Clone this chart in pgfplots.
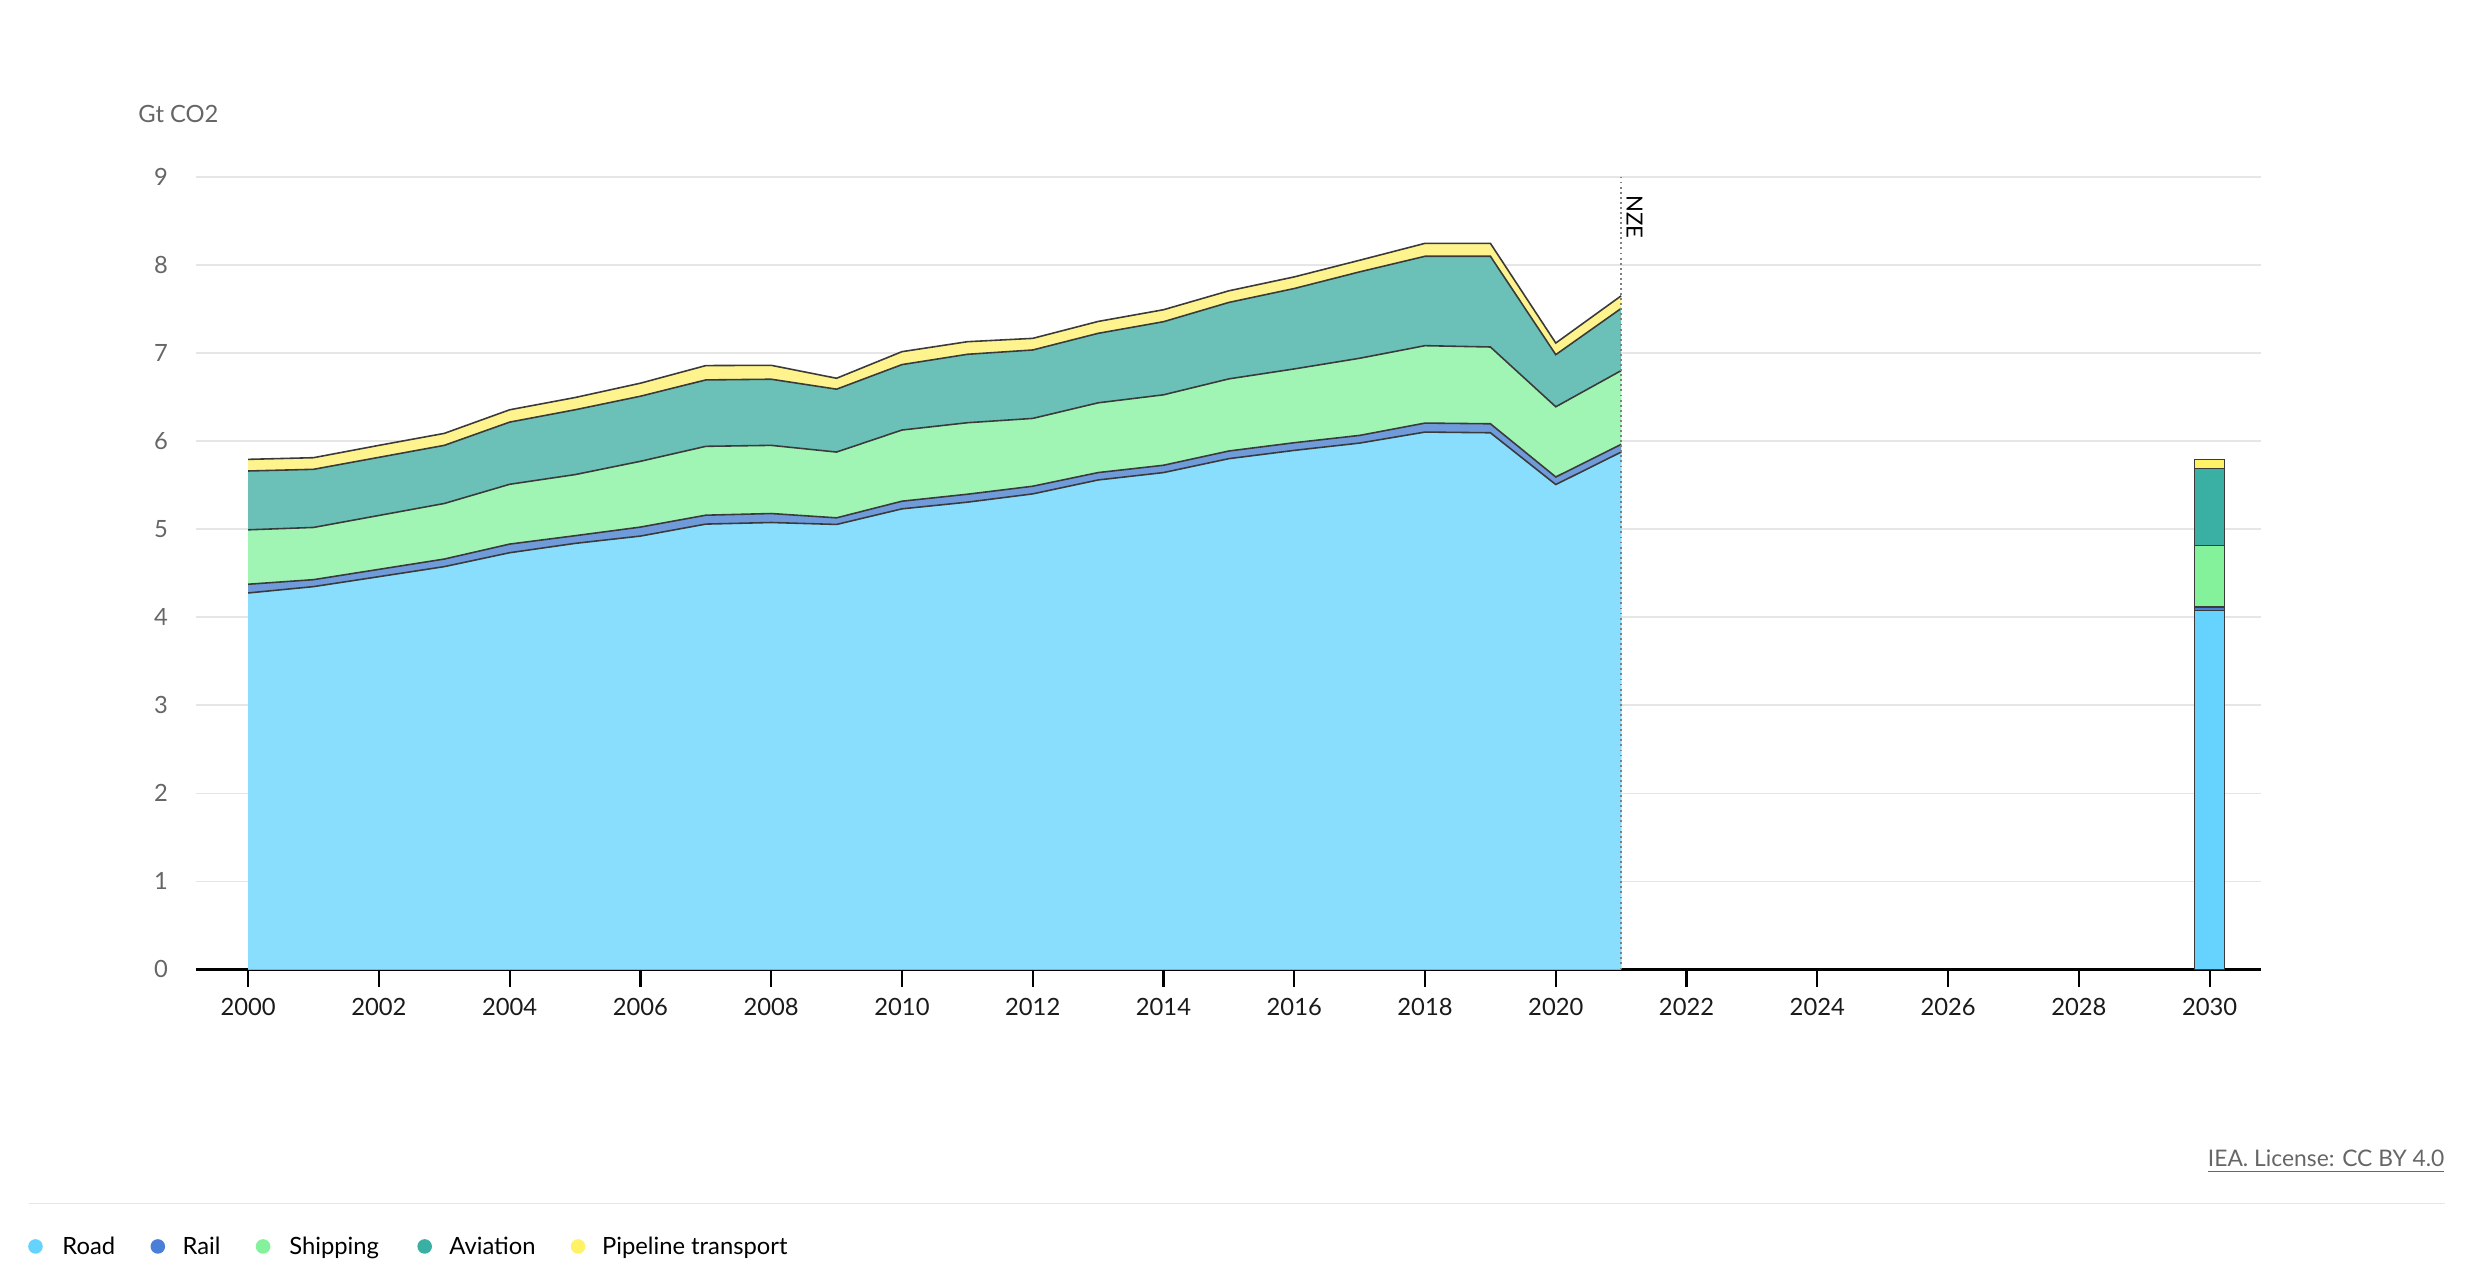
\documentclass[border=0pt]{standalone}
\usepackage{fontspec}
\setmainfont{Lato}
\usepackage{pgfplots}
\pgfplotsset{compat=1.18}
\usepackage{pgfplotstable}

\definecolor{roadA}{HTML}{89DEFD}
\definecolor{railA}{HTML}{6F9BDB}
\definecolor{shipA}{HTML}{A0F5B4}
\definecolor{aviA}{HTML}{6BC1B7}
\definecolor{pipeA}{HTML}{FEF38D}
\definecolor{roadB}{HTML}{66D2FE}
\definecolor{railB}{HTML}{4A7FD8}
\definecolor{shipB}{HTML}{84F29A}
\definecolor{aviB}{HTML}{3AAFA3}
\definecolor{pipeB}{HTML}{FFF266}
\definecolor{edge}{HTML}{3A3A3A}
\definecolor{gridgray}{HTML}{E6E6E6}
\definecolor{textgray}{HTML}{666666}
\definecolor{labelblack}{HTML}{1A1A1A}

% cumulative (stacked) boundaries, Gt CO2
\pgfplotstableread{
year road  rail  shipping aviation pipeline
2000 4.275 4.374 4.992 5.660 5.792
2001 4.347 4.426 5.019 5.679 5.811
2002 4.460 4.543 5.155 5.815 5.951
2003 4.574 4.660 5.291 5.951 6.087
2004 4.732 4.830 5.509 6.215 6.355
2005 4.838 4.925 5.619 6.355 6.494
2006 4.921 5.023 5.770 6.509 6.657
2007 5.057 5.158 5.940 6.694 6.857
2008 5.075 5.177 5.951 6.702 6.860
2009 5.053 5.128 5.875 6.589 6.713
2010 5.230 5.317 6.125 6.868 7.015
2011 5.306 5.396 6.208 6.985 7.128
2012 5.400 5.487 6.257 7.034 7.166
2013 5.558 5.642 6.434 7.223 7.358
2014 5.642 5.725 6.525 7.355 7.491
2015 5.800 5.887 6.706 7.574 7.706
2016 5.894 5.981 6.819 7.732 7.864
2017 5.977 6.064 6.940 7.921 8.053
2018 6.102 6.204 7.083 8.098 8.245
2019 6.094 6.196 7.068 8.098 8.245
2020 5.506 5.592 6.389 6.981 7.113
2021 5.875 5.962 6.800 7.506 7.649
}\cumdata

\pgfplotstableread{
year road  rail  shipping aviation pipeline
2030 4.074 4.117 4.813 5.687 5.790
}\nzedata

\begin{document}
\begin{tikzpicture}[font=\fontsize{7.5}{9}\selectfont]
\useasboundingbox (0,0) rectangle (780pt,405.8pt);
\begin{axis}[
  at={(62pt,99.9pt)}, anchor=south west,
  scale only axis, width=651.5pt, height=250.1pt,
  xmin=1999.21, xmax=2030.79, ymin=0, ymax=9,
  axis x line*=bottom, axis y line*=left,
  x axis line style={-, black, line width=0.7pt},
  y axis line style={draw=none},
  xtick={2000,2002,...,2030},
  ytick={0,1,...,9},
  tick align=outside, major tick length=5.5pt,
  xtick style={black, line width=0.7pt},
  ytick style={draw=none},
  ymajorgrids, grid style={gridgray, line width=0.5pt},
  /pgf/number format/1000 sep={},
  /pgf/number format/assume math mode=true,
  xticklabel style={text=labelblack, font=\fontsize{7.5}{9}\selectfont},
  yticklabel style={text=textgray, font=\fontsize{7.5}{9}\selectfont},
  clip=false,
]
% stacked areas (drawn top-down, each filled to the axis)
\addplot[fill=pipeA, draw=none] table[x=year,y=pipeline]{\cumdata} \closedcycle;
\addplot[fill=aviA, draw=none] table[x=year,y=aviation]{\cumdata} \closedcycle;
\addplot[fill=shipA, draw=none] table[x=year,y=shipping]{\cumdata} \closedcycle;
\addplot[fill=railA, draw=none] table[x=year,y=rail]{\cumdata} \closedcycle;
\addplot[fill=roadA, draw=none] table[x=year,y=road]{\cumdata} \closedcycle;
% boundary lines
\addplot[edge, line width=0.5pt] table[x=year,y=pipeline]{\cumdata};
\addplot[edge, line width=0.5pt] table[x=year,y=aviation]{\cumdata};
\addplot[edge, line width=0.5pt] table[x=year,y=shipping]{\cumdata};
\addplot[edge, line width=0.5pt] table[x=year,y=rail]{\cumdata};
\addplot[edge, line width=0.5pt] table[x=year,y=road]{\cumdata};
% 2030 NZE stacked bar
\addplot[ybar, bar width=0.46, bar shift=0pt, fill=pipeB, draw=edge, line width=0.5pt] table[x=year,y=pipeline]{\nzedata};
\addplot[ybar, bar width=0.46, bar shift=0pt, fill=aviB, draw=edge, line width=0.5pt] table[x=year,y=aviation]{\nzedata};
\addplot[ybar, bar width=0.46, bar shift=0pt, fill=shipB, draw=edge, line width=0.5pt] table[x=year,y=shipping]{\nzedata};
\addplot[ybar, bar width=0.46, bar shift=0pt, fill=railB, draw=edge, line width=0.5pt] table[x=year,y=rail]{\nzedata};
\addplot[ybar, bar width=0.46, bar shift=0pt, fill=roadB, draw=edge, line width=0.5pt] table[x=year,y=road]{\nzedata};
% NZE marker
\draw[gray, densely dotted, line width=0.6pt] (axis cs:2021,0) -- (axis cs:2021,9);
\node[rotate=-90, anchor=south west, inner sep=1.5pt, text=black, font=\fontsize{7}{8}\selectfont] at (axis cs:2021,8.85) {NZE};
\end{axis}
% unit label
\node[anchor=base west, inner sep=0, text=textgray] at (43.5pt,367.2pt) {Gt CO2};
% source
\node[anchor=base east, inner sep=0, text=textgray, font=\fontsize{7.2}{9}\selectfont] at (771.5pt,37.6pt) {\underline{IEA. License: CC BY 4.0}};
\draw[gridgray, line width=0.5pt] (9pt,26.1pt) -- (771.5pt,26.1pt);
% legend
\fill[roadB] (11.2pt,12.5pt) circle (2.3pt);
\node[anchor=base west, inner sep=0] at (19.5pt,9.9pt) {Road};
\fill[railB] (49.8pt,12.5pt) circle (2.3pt);
\node[anchor=base west, inner sep=0] at (57.4pt,9.9pt) {Rail};
\fill[shipB] (83pt,12.5pt) circle (2.3pt);
\node[anchor=base west, inner sep=0] at (91.1pt,9.9pt) {Shipping};
\fill[aviB] (134pt,12.5pt) circle (2.3pt);
\node[anchor=base west, inner sep=0] at (141.6pt,9.9pt) {Aviation};
\fill[pipeB] (182.4pt,12.5pt) circle (2.3pt);
\node[anchor=base west, inner sep=0] at (189.8pt,9.9pt) {Pipeline transport};
\end{tikzpicture}
\end{document}
